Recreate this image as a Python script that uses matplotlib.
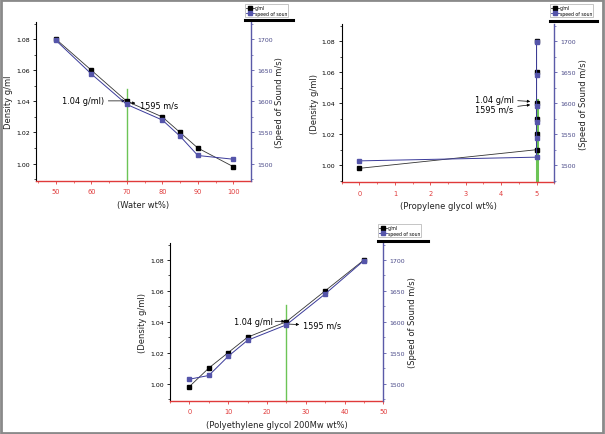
import matplotlib
matplotlib.use("Agg")
import matplotlib.pyplot as plt
from matplotlib.lines import Line2D
from matplotlib.patches import Rectangle
from matplotlib.ticker import MultipleLocator

# ---------------- data ----------------
water_x = [50, 60, 70, 80, 85, 90, 100]
water_density = [1.08, 1.06, 1.04, 1.03, 1.02, 1.01, 0.998]
water_speed = [1698, 1644, 1595, 1570, 1544, 1513, 1507]

pg_x = [0, 5, 5, 5, 5, 5, 5]
pg_density = [0.998, 1.01, 1.02, 1.03, 1.04, 1.06, 1.08]
pg_speed = [1507, 1513, 1544, 1570, 1595, 1645, 1699]

peg_x = [0, 5, 10, 15, 25, 35, 45]
peg_density = [0.998, 1.01, 1.02, 1.03, 1.04, 1.06, 1.08]
peg_speed = [1507, 1513, 1544, 1570, 1595, 1645, 1699]

density_ticks = [1.00, 1.02, 1.04, 1.06, 1.08]
speed_ticks = [1500, 1550, 1600, 1650, 1700]
legend_labels = ["g/ml", "speed of soun"]
ann_density = "1.04 g/ml"
ann_speed = "1595 m/s"

RED = "#e03a3a"
BLUE_LINE = "#3a3a9a"
BLUE_MARK = "#5555aa"
BLUE_AX = "#5a5aa8"
GREEN = "#6cc456"

W, H = 605, 435
fig = plt.figure(figsize=(W / 100, H / 100), dpi=100)
fig.patch.set_facecolor("white")


def px_ax(l, t, r, b):
    return [l / W, (H - b) / H, (r - l) / W, (b - t) / H]


def make_panel(rect, xs, dens, speed, xlim, xmaj, xmin, xlabel, ylabel,
               green_x, green_top, green_lw):
    ax = fig.add_axes(rect)
    ax.set_xlim(*xlim)
    ylo, yhi = 0.989, 1.091
    ax.set_ylim(ylo, yhi)
    ax2 = ax.twinx()
    ax2.set_ylim(1500 + (ylo - 1) * 2500, 1500 + (yhi - 1) * 2500)

    ax.plot([green_x, green_x], [ylo, green_top], color=GREEN, lw=green_lw, zorder=1)
    ax.plot(xs, dens, color="#333333", lw=0.6, marker="s", ms=3.0,
            mfc="black", mec="black", zorder=3)
    ax2.plot(xs, speed, color=BLUE_LINE, lw=0.7, marker="s", ms=3.0,
             mfc=BLUE_MARK, mec=BLUE_MARK, zorder=3)

    for a in (ax, ax2):
        a.spines["top"].set_visible(False)
        a.patch.set_visible(False)
    ax.spines["left"].set_color("black")
    ax.spines["left"].set_linewidth(0.8)
    ax.spines["bottom"].set_color(RED)
    ax.spines["bottom"].set_linewidth(1.0)
    ax.spines["right"].set_visible(False)
    ax2.spines["left"].set_visible(False)
    ax2.spines["bottom"].set_visible(False)
    ax2.spines["right"].set_color(BLUE_AX)
    ax2.spines["right"].set_linewidth(1.0)

    ax.set_yticks(density_ticks)
    ax.set_yticklabels([f"{v:.2f}" for v in density_ticks])
    ax.yaxis.set_minor_locator(MultipleLocator(0.01))
    ax2.set_yticks(speed_ticks)
    ax2.yaxis.set_minor_locator(MultipleLocator(25))
    ax.xaxis.set_major_locator(MultipleLocator(xmaj))
    ax.xaxis.set_minor_locator(MultipleLocator(xmin))

    ax.tick_params(axis="y", which="major", labelsize=4.5, length=2.5, width=0.6,
                   colors="black", pad=2)
    ax.tick_params(axis="y", which="minor", length=1.5, width=0.5, colors="black")
    ax.tick_params(axis="x", which="major", labelsize=4.8, length=2.5, width=0.6,
                   colors=RED, labelcolor=RED, pad=3)
    ax.tick_params(axis="x", which="minor", length=1.5, width=0.5, colors=RED)
    ax2.tick_params(axis="y", which="major", labelsize=4.5, length=2.5, width=0.6,
                    colors=BLUE_AX, labelcolor="#4a4a88", pad=2)
    ax2.tick_params(axis="y", which="minor", length=1.5, width=0.5, colors=BLUE_AX)

    ax.set_xlabel(xlabel, fontsize=6.0, color="#222222", labelpad=4)
    ax.set_ylabel(ylabel, fontsize=6.0, color="#222222", labelpad=2)
    ax2.set_ylabel("(Speed of Sound m/s)", fontsize=6.0, color="#222222", labelpad=2)
    return ax, ax2


def add_legend(x0, y0, x1, y1):
    # x0..x1, y0..y1 in pixels (top-left origin)
    handles = [
        Line2D([], [], color="#333333", lw=0.6, marker="s", ms=2.2, mfc="black", mec="black"),
        Line2D([], [], color=BLUE_LINE, lw=0.6, marker="s", ms=2.2, mfc=BLUE_MARK, mec=BLUE_MARK),
    ]
    leg = fig.legend(handles, legend_labels, loc="upper left",
                     bbox_to_anchor=(x0 / W, (H - y0) / H), fontsize=3.3,
                     frameon=True, fancybox=False, edgecolor="#999999",
                     borderpad=0.3, handlelength=1.6, handletextpad=0.2,
                     labelspacing=0.15, borderaxespad=0)
    leg.get_frame().set_linewidth(0.5)
    fig.add_artist(Line2D([x0 / W, x1 / W], [(H - y1) / H, (H - y1) / H],
                          color="black", lw=2.2, transform=fig.transFigure))


ANN_FS = 5.9

# Panel 1: water
ax1, ax1b = make_panel(px_ax(36, 23, 250.7, 181.7), water_x, water_density, water_speed,
                       (44.4, 104.9), 10, 5, "(Water wt%)", "Density g/ml",
                       70, 1.048, 1.0)
ax1.annotate(ann_density + ")", xy=(69.5, 1.0403), xytext=(63.6, 1.0403),
             fontsize=ANN_FS, ha="right", va="center",
             arrowprops=dict(arrowstyle="-|>", lw=0.5, color="black",
                             mutation_scale=4, shrinkA=1, shrinkB=0))
ax1.annotate(ann_speed, xy=(70.4, 1.0392), xytext=(73.6, 1.0376),
             fontsize=ANN_FS, ha="left", va="center",
             arrowprops=dict(arrowstyle="<|-", lw=0.5, color="black",
                             mutation_scale=4, shrinkA=1, shrinkB=0))
add_legend(245, 5, 293, 20.5)

# Panel 2: propylene glycol
ax2, ax2b = make_panel(px_ax(341.7, 25, 554.3, 183.3), pg_x, pg_density, pg_speed,
                       (-0.5, 5.5), 1, 0.5, "(Propylene glycol wt%)", "(Density g/ml)",
                       5, 1.042, 2.2)
ax2.annotate(ann_density, xy=(4.82, 1.0411), xytext=(4.35, 1.0425),
             fontsize=ANN_FS, ha="right", va="center",
             arrowprops=dict(arrowstyle="-|>", lw=0.5, color="black",
                             mutation_scale=4, shrinkA=1, shrinkB=0))
ax2.annotate(ann_speed, xy=(4.82, 1.0389), xytext=(4.35, 1.0362),
             fontsize=ANN_FS, ha="right", va="center",
             arrowprops=dict(arrowstyle="-|>", lw=0.5, color="black",
                             mutation_scale=4, shrinkA=1, shrinkB=0))
add_legend(550, 5, 597, 22)

# Panel 3: PEG 200
ax3, ax3b = make_panel(px_ax(170, 244, 383.3, 401.5), peg_x, peg_density, peg_speed,
                       (-5, 50), 10, 5, "(Polyethylene glycol 200Mw wt%)", "(Density g/ml)",
                       25, 1.051, 1.0)
ax3.annotate(ann_density, xy=(24.6, 1.0403), xytext=(21.4, 1.0403),
             fontsize=ANN_FS, ha="right", va="center",
             arrowprops=dict(arrowstyle="-|>", lw=0.5, color="black",
                             mutation_scale=4, shrinkA=0, shrinkB=0))
ax3.annotate(ann_speed, xy=(25.4, 1.0385), xytext=(29.4, 1.0376),
             fontsize=ANN_FS, ha="left", va="center",
             arrowprops=dict(arrowstyle="<|-", lw=0.5, color="black",
                             mutation_scale=4, shrinkA=1, shrinkB=0))
add_legend(378, 225, 428, 242)

# outer gray frame
fig.add_artist(Rectangle((0.002, 0.003), 0.995, 0.994, transform=fig.transFigure,
                         fill=False, edgecolor="#8a8a8a", lw=2.0))

fig.savefig("out.png", dpi=100, facecolor="white")
